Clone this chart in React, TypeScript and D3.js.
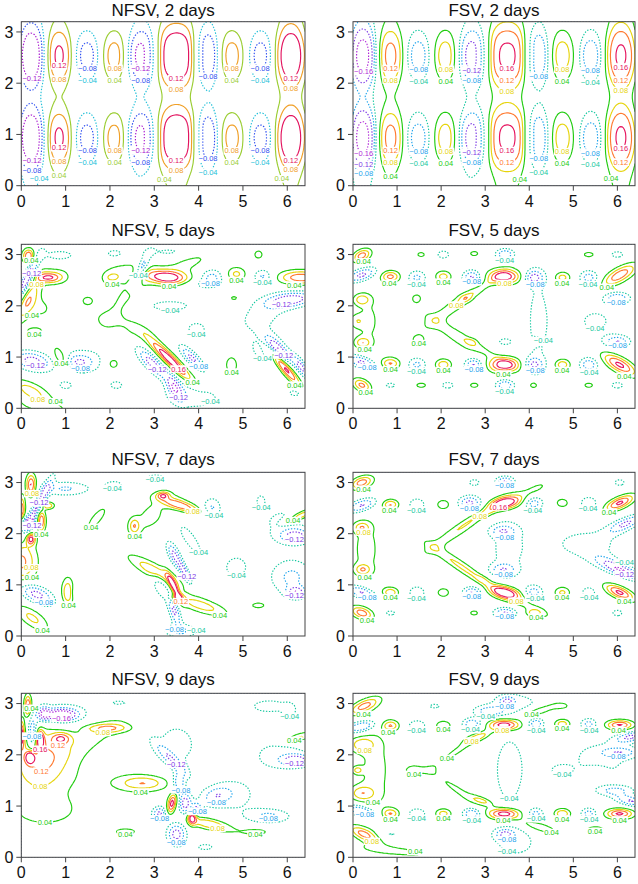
import { useMemo } from "react";
import * as d3 from "d3";

// blob: [x, y, amplitude, sigma along axis, sigma across axis, axis angle in degrees]
type Blob = [number, number, number, number, number, number];

const X_MAX = 6.4;
const Y_MAX = 3.2;
const xTicks = [0, 1, 2, 3, 4, 5, 6];
const yTicks = [0, 1, 2, 3];

// 2-day fields: alternating columns of cells (upper and lower row), read column by column
const waveX = [0.22, 0.85, 1.48, 2.1, 2.75, 3.5, 4.15, 4.75, 5.4, 6.08];
const waveSx = [0.25, 0.23, 0.22, 0.22, 0.29, 0.44, 0.24, 0.22, 0.22, 0.28];
const waveSy = [0.5, 0.41, 0.33, 0.33, 0.41, 0.48, 0.42, 0.33, 0.33, 0.48];
const waveRows = [2.54, 0.93];
const nfsv2Amp = [-0.15, 0.123, -0.092, 0.092, -0.135, 0.155, -0.125, 0.092, -0.092, 0.152];
const fsv2Amp = [-0.172, 0.128, -0.095, 0.095, -0.14, 0.166, -0.125, 0.095, -0.1, 0.163];

const levels6 = [-0.12, -0.08, -0.04, 0.04, 0.08, 0.12];
const colors6 = ["#a818d0", "#2f50f0", "#22c0d8", "#9acd32", "#f0a028", "#e3155f"];
const levels8 = [-0.16, -0.12, -0.08, -0.04, 0.04, 0.08, 0.12, 0.16];
const colors8 = ["#b02ad8", "#7d3ae6", "#1ea4ec", "#16c8a0", "#22cc11", "#e6d40c", "#ff7a30", "#e6155f"];

const nfsv5: Blob[] = [
  [0.17, 2.97, 0.17, 0.1, 0.1, 0],
  [0.15, 2.55, -0.17, 0.35, 0.08, 60],
  [0.15, 2.1, 0.11, 0.35, 0.12, 60],
  [0.62, 2.55, 0.13, 0.2, 0.07, 0],
  [0.8, 2.6, 0.045, 0.35, 0.15, 0],
  [0.45, 1.95, 0.045, 0.25, 0.2, 0],
  [0.3, 1.5, 0.05, 0.2, 0.08, 0],
  [0.25, 0.92, -0.14, 0.3, 0.13, -10],
  [0.9, 0.95, 0.1, 0.22, 0.1, -60],
  [0.2, 0.35, 0.095, 0.35, 0.12, -20],
  [0.5, 0.02, 0.05, 0.6, 0.12, -10],
  [1.3, 0.9, -0.09, 0.22, 0.1, 0],
  [1.45, 0.95, -0.045, 0.45, 0.3, 0],
  [1.0, 0.45, -0.05, 0.15, 0.08, 0],
  [1.45, 1.3, 0.05, 0.1, 0.06, 0],
  [1.5, 2.1, 0.05, 0.15, 0.1, 0],
  [0.85, 2.98, -0.055, 0.35, 0.1, 0],
  [1.5, 2.52, -0.06, 0.22, 0.16, 0],
  [2.1, 2.6, 0.065, 0.45, 0.15, 15],
  [2.05, 2.55, 0.035, 0.12, 0.06, 0],
  [2.1, 3.02, -0.05, 0.2, 0.08, 0],
  [2.35, 2.15, 0.055, 0.55, 0.16, 45],
  [2.35, 1.6, 0.055, 0.5, 0.12, -15],
  [3.3, 2.55, 0.19, 0.35, 0.1, -5],
  [3.8, 2.85, 0.05, 0.5, 0.15, 20],
  [2.7, 2.7, -0.14, 0.25, 0.08, 60],
  [3.9, 2.42, -0.05, 0.3, 0.08, 0],
  [4.3, 2.55, -0.095, 0.18, 0.12, 0],
  [3.3, 3.05, -0.05, 0.45, 0.08, 0],
  [3.35, 2.0, -0.05, 0.55, 0.12, 0],
  [3.95, 1.55, -0.05, 0.25, 0.15, 0],
  [4.8, 2.15, 0.05, 0.1, 0.05, 0],
  [4.85, 2.62, 0.09, 0.16, 0.1, 0],
  [5.35, 3.0, 0.05, 0.12, 0.1, 0],
  [5.45, 2.57, -0.09, 0.15, 0.1, 0],
  [6.3, 2.55, 0.15, 0.35, 0.1, 0],
  [6.1, 2.12, -0.135, 0.4, 0.1, 5],
  [5.5, 1.9, -0.05, 0.5, 0.2, 20],
  [5.95, 0.78, 0.18, 0.35, 0.07, -45],
  [6.32, 0.8, -0.13, 0.2, 0.07, -50],
  [5.8, 1.15, -0.13, 0.25, 0.08, -40],
  [5.5, 1.2, -0.05, 0.4, 0.35, 0],
  [4.75, 0.85, 0.07, 0.12, 0.15, 0],
  [5.5, 0.45, 0.045, 0.15, 0.07, 0],
  [6.2, 0.3, -0.05, 0.2, 0.08, 0],
  [3.35, 0.95, 0.2, 0.45, 0.08, -40],
  [2.95, 0.88, -0.14, 0.3, 0.1, -40],
  [3.85, 0.98, -0.13, 0.25, 0.08, -40],
  [3.45, 0.42, -0.13, 0.2, 0.1, -60],
  [3.9, 0.25, -0.07, 0.5, 0.2, 0],
  [4.3, 0.45, 0.05, 0.3, 0.08, -20],
  [2.2, 1.5, -0.045, 0.12, 0.08, 0],
  [2.07, 0.87, 0.07, 0.12, 0.1, 0],
  [2.15, 0.45, -0.05, 0.15, 0.08, 0],
];

const fsv5: Blob[] = [
  [0.85, 2.57, 0.13, 0.15, 0.08, 0],
  [1.45, 2.55, -0.09, 0.15, 0.1, 0],
  [2.05, 2.57, 0.1, 0.13, 0.08, 0],
  [2.7, 2.55, -0.13, 0.15, 0.1, 0],
  [3.45, 2.57, 0.19, 0.25, 0.1, 0],
  [4.1, 2.55, -0.12, 0.15, 0.1, 0],
  [4.75, 2.55, 0.1, 0.13, 0.08, 0],
  [5.35, 2.55, -0.1, 0.15, 0.1, 0],
  [6.05, 2.6, 0.15, 0.3, 0.1, 25],
  [0.85, 0.87, 0.12, 0.15, 0.08, 0],
  [1.45, 0.85, -0.09, 0.15, 0.1, 0],
  [2.05, 0.85, 0.11, 0.13, 0.08, 0],
  [2.75, 0.85, -0.13, 0.15, 0.1, 0],
  [3.45, 0.85, 0.19, 0.25, 0.1, 0],
  [4.1, 0.85, -0.11, 0.15, 0.1, 0],
  [4.75, 0.85, 0.11, 0.13, 0.08, 0],
  [5.35, 0.85, -0.11, 0.15, 0.1, 0],
  [6.05, 0.85, 0.17, 0.3, 0.1, -25],
  [0.2, 2.98, 0.14, 0.15, 0.08, 20],
  [0.2, 2.6, -0.14, 0.25, 0.09, 15],
  [0.2, 2.12, 0.09, 0.12, 0.07, 0],
  [0.1, 1.7, 0.05, 0.12, 0.08, 0],
  [0.22, 1.28, 0.09, 0.12, 0.07, 0],
  [0.2, 0.9, -0.14, 0.25, 0.09, -15],
  [0.2, 0.45, 0.13, 0.15, 0.08, -20],
  [0.35, 1.7, 0.045, 0.3, 0.55, 0],
  [2.65, 2.2, 0.045, 0.55, 0.06, 30],
  [2.55, 2.15, 0.04, 0.1, 0.05, 0],
  [2.3, 2.0, 0.045, 0.75, 0.12, 33],
  [2.75, 1.25, 0.045, 0.55, 0.06, -27],
  [2.7, 1.3, 0.04, 0.1, 0.05, 0],
  [2.3, 1.4, 0.045, 0.75, 0.12, -33],
  [1.55, 3.0, 0.05, 0.12, 0.06, 0],
  [2.05, 3.0, -0.05, 0.18, 0.1, 0],
  [2.75, 3.02, 0.05, 0.12, 0.06, 0],
  [3.45, 3.0, -0.12, 0.15, 0.08, 0],
  [4.1, 3.02, 0.05, 0.2, 0.06, 20],
  [5.35, 3.0, 0.05, 0.15, 0.06, 0],
  [6.0, 3.0, -0.05, 0.18, 0.08, 0],
  [0.85, 0.45, -0.05, 0.15, 0.06, 0],
  [1.55, 0.45, 0.05, 0.15, 0.06, 0],
  [2.15, 0.45, -0.05, 0.18, 0.08, 0],
  [2.75, 0.45, 0.05, 0.13, 0.06, 0],
  [3.45, 0.45, -0.12, 0.15, 0.08, 0],
  [4.1, 0.45, 0.08, 0.08, 0.05, 0],
  [5.35, 0.45, 0.05, 0.13, 0.06, 0],
  [6.0, 0.45, -0.05, 0.18, 0.08, 0],
  [1.45, 2.15, 0.05, 0.1, 0.08, 0],
  [3.45, 1.3, -0.05, 0.18, 0.08, 0],
  [4.15, 1.3, 0.045, 0.07, 0.05, 0],
  [1.5, 1.33, 0.05, 0.12, 0.08, 0],
  [6.0, 1.3, -0.11, 0.2, 0.08, 0],
  [6.0, 2.15, -0.11, 0.2, 0.08, 0],
  [0.9, 2.1, -0.045, 0.08, 0.05, 0],
  [0.9, 1.3, -0.045, 0.08, 0.05, 0],
  [4.2, 1.7, -0.05, 0.25, 0.9, 0],
  [5.5, 1.7, -0.045, 0.5, 0.3, 0],
];

const nfsv7: Blob[] = [
  [0.22, 2.95, 0.17, 0.08, 0.15, 0],
  [0.0, 2.45, 0.16, 0.06, 0.2, 0],
  [0.22, 1.9, 0.16, 0.07, 0.08, 0],
  [0.45, 2.25, 0.16, 0.07, 0.15, 0],
  [0.38, 2.55, -0.14, 0.45, 0.07, 60],
  [0.1, 2.2, -0.13, 0.15, 0.1, 0],
  [0.6, 2.55, 0.12, 0.1, 0.05, 0],
  [0.0, 1.45, 0.13, 0.25, 0.3, 0],
  [0.33, 0.82, -0.14, 0.3, 0.12, -20],
  [1.05, 0.85, 0.12, 0.1, 0.2, 0],
  [0.25, 0.35, 0.09, 0.3, 0.12, -30],
  [1.0, 2.88, -0.085, 0.4, 0.1, 0],
  [1.7, 2.3, 0.05, 0.35, 0.12, 45],
  [2.1, 2.95, -0.05, 0.25, 0.1, 0],
  [2.55, 2.15, 0.09, 0.08, 0.1, 0],
  [3.0, 2.4, 0.05, 0.6, 0.25, 35],
  [3.6, 2.55, 0.14, 0.35, 0.07, -15],
  [3.2, 2.75, 0.12, 0.1, 0.05, 0],
  [3.05, 3.1, -0.05, 0.3, 0.08, 0],
  [4.3, 2.5, -0.085, 0.15, 0.15, 0],
  [3.8, 1.9, -0.05, 0.5, 0.15, -50],
  [3.05, 1.25, 0.12, 0.45, 0.1, -25],
  [3.45, 0.95, 0.17, 0.2, 0.05, -60],
  [4.05, 0.6, 0.1, 0.45, 0.1, -15],
  [3.5, 0.75, 0.12, 0.1, 0.05, 0],
  [3.45, 1.58, -0.13, 0.2, 0.08, -60],
  [3.7, 1.22, -0.13, 0.18, 0.06, -60],
  [3.45, 0.5, -0.13, 0.22, 0.08, -70],
  [3.15, 0.95, -0.09, 0.2, 0.1, -60],
  [3.6, 0.1, -0.08, 0.3, 0.1, 0],
  [4.85, 1.35, -0.05, 0.3, 0.25, 0],
  [6.1, 1.15, -0.09, 0.35, 0.25, 0],
  [6.2, 0.85, -0.12, 0.15, 0.08, 0],
  [5.35, 0.6, 0.05, 0.2, 0.07, 0],
  [6.3, 2.35, 0.13, 0.25, 0.06, 20],
  [6.2, 1.95, -0.12, 0.25, 0.1, 0],
  [5.9, 2.2, -0.05, 0.45, 0.3, 0],
  [5.4, 2.65, -0.045, 0.1, 0.12, 0],
  [1.25, 0.85, -0.045, 0.1, 0.1, 0],
  [1.0, 0.45, -0.045, 0.1, 0.1, 0],
];

const fsv7: Blob[] = [
  [0.85, 2.57, 0.12, 0.13, 0.07, 0],
  [1.45, 2.57, -0.07, 0.15, 0.1, 0],
  [2.05, 2.57, 0.065, 0.13, 0.08, 0],
  [2.65, 2.6, -0.13, 0.18, 0.1, 0],
  [3.45, 2.6, 0.19, 0.25, 0.09, 10],
  [4.1, 2.6, -0.1, 0.15, 0.1, 0],
  [4.75, 2.6, 0.06, 0.13, 0.08, 0],
  [5.35, 2.6, -0.07, 0.15, 0.1, 0],
  [6.05, 2.6, 0.17, 0.25, 0.08, 20],
  [6.2, 2.2, -0.12, 0.3, 0.08, 20],
  [0.85, 0.85, 0.11, 0.13, 0.07, 0],
  [1.45, 0.85, -0.07, 0.15, 0.1, 0],
  [2.05, 0.85, 0.06, 0.13, 0.08, 0],
  [2.7, 0.85, -0.12, 0.15, 0.08, 0],
  [3.45, 0.85, 0.19, 0.25, 0.09, -10],
  [4.1, 0.85, -0.1, 0.15, 0.1, 0],
  [4.75, 0.85, 0.09, 0.13, 0.08, 0],
  [5.35, 0.85, -0.06, 0.15, 0.1, 0],
  [6.05, 0.85, 0.17, 0.25, 0.08, -20],
  [6.2, 1.25, -0.12, 0.3, 0.08, -20],
  [0.2, 3.0, 0.14, 0.18, 0.08, 15],
  [0.2, 2.55, -0.14, 0.25, 0.09, 15],
  [0.2, 2.12, 0.09, 0.12, 0.07, 0],
  [0.22, 1.3, 0.09, 0.12, 0.07, 0],
  [0.2, 0.85, -0.14, 0.25, 0.09, -15],
  [0.2, 0.45, 0.14, 0.18, 0.08, -15],
  [0.3, 1.7, 0.05, 0.3, 0.6, 0],
  [2.65, 2.25, 0.045, 0.6, 0.06, 30],
  [3.05, 2.4, 0.04, 0.12, 0.05, 20],
  [2.4, 2.05, 0.045, 0.85, 0.1, 30],
  [2.55, 1.3, 0.045, 0.6, 0.06, -30],
  [2.95, 1.1, 0.04, 0.12, 0.05, -20],
  [2.4, 1.4, 0.045, 0.85, 0.1, -30],
  [4.0, 0.6, 0.05, 0.6, 0.1, -25],
  [4.0, 2.8, 0.05, 0.5, 0.1, 25],
  [3.4, 2.05, -0.085, 0.2, 0.08, 0],
  [3.4, 1.3, -0.085, 0.2, 0.08, 0],
  [3.5, 1.7, -0.05, 0.35, 0.6, 0],
  [3.45, 3.02, -0.12, 0.15, 0.07, 0],
  [3.45, 0.45, -0.12, 0.18, 0.07, 0],
  [2.75, 3.0, -0.05, 0.15, 0.08, 0],
  [2.75, 0.45, 0.05, 0.12, 0.06, 0],
  [4.1, 0.45, 0.08, 0.12, 0.05, 0],
  [0.85, 0.45, -0.05, 0.15, 0.06, 0],
  [6.0, 0.45, -0.05, 0.15, 0.08, 0],
  [6.05, 3.0, -0.05, 0.15, 0.08, 0],
  [5.3, 1.8, -0.05, 0.8, 0.3, 0],
  [5.8, 1.4, -0.08, 0.3, 0.1, -20],
];

const nfsv9: Blob[] = [
  [0.15, 2.95, 0.18, 0.06, 0.15, 0],
  [0.2, 1.95, 0.17, 0.07, 0.08, 0],
  [0.42, 2.3, 0.17, 0.06, 0.12, 0],
  [0.0, 2.4, 0.16, 0.05, 0.2, 0],
  [0.25, 2.4, -0.15, 0.08, 0.25, 0],
  [0.5, 2.8, -0.12, 0.1, 0.1, 0],
  [0.9, 2.78, -0.18, 0.25, 0.08, 0],
  [0.9, 2.8, -0.06, 0.5, 0.2, 0],
  [0.9, 2.32, 0.11, 0.15, 0.08, 0],
  [0.4, 2.0, 0.09, 0.45, 0.4, 45],
  [0.6, 1.6, 0.05, 0.7, 0.5, 30],
  [1.95, 2.52, 0.095, 0.35, 0.06, 0],
  [1.8, 2.45, 0.045, 0.8, 0.2, 25],
  [2.3, 3.0, -0.05, 0.45, 0.12, 0],
  [3.5, 2.2, -0.05, 0.5, 0.45, 0],
  [3.4, 1.9, -0.09, 0.35, 0.08, -40],
  [2.75, 1.45, 0.08, 0.35, 0.09, 0],
  [2.7, 1.45, 0.045, 0.7, 0.2, 0],
  [3.4, 1.05, 0.18, 0.07, 0.15, -20],
  [3.85, 0.78, 0.17, 0.07, 0.1, 0],
  [4.25, 0.65, 0.12, 0.35, 0.08, -10],
  [3.55, 1.45, -0.13, 0.1, 0.15, 0],
  [3.7, 1.05, -0.14, 0.1, 0.15, 0],
  [3.12, 0.85, -0.13, 0.12, 0.1, 0],
  [3.5, 0.45, -0.14, 0.15, 0.15, 0],
  [3.95, 0.95, -0.12, 0.08, 0.08, 0],
  [4.4, 1.2, -0.085, 0.25, 0.12, 10],
  [4.8, 1.2, -0.05, 0.5, 0.3, 0],
  [5.6, 0.8, -0.085, 0.35, 0.1, 0],
  [5.3, 0.5, 0.05, 0.35, 0.08, 0],
  [4.15, 0.2, -0.045, 0.3, 0.1, 0],
  [6.3, 2.35, 0.1, 0.25, 0.06, 10],
  [6.2, 1.9, -0.12, 0.25, 0.08, 0],
  [5.8, 2.0, -0.05, 0.6, 0.3, 0],
  [5.6, 2.95, -0.05, 0.5, 0.15, 0],
  [2.35, 0.5, 0.05, 0.3, 0.08, 0],
  [0.6, 0.9, 0.05, 0.5, 0.2, 0],
  [5.05, 2.1, 0.045, 0.08, 0.05, 0],
  [6.05, 2.85, -0.045, 0.1, 0.1, 0],
];

const fsv9: Blob[] = [
  [0.85, 2.57, 0.11, 0.13, 0.07, 0],
  [1.45, 2.57, -0.08, 0.15, 0.08, 0],
  [2.05, 2.57, 0.08, 0.13, 0.07, 0],
  [2.7, 2.6, -0.12, 0.15, 0.08, 0],
  [3.45, 2.58, 0.2, 0.25, 0.08, 0],
  [4.15, 2.6, -0.11, 0.12, 0.08, 0],
  [4.75, 2.6, 0.11, 0.13, 0.07, 0],
  [5.35, 2.6, -0.09, 0.13, 0.08, 0],
  [6.05, 2.58, 0.17, 0.22, 0.07, 0],
  [6.3, 2.35, -0.12, 0.25, 0.07, 10],
  [0.85, 0.85, 0.11, 0.13, 0.07, 0],
  [1.45, 0.85, -0.08, 0.15, 0.08, 0],
  [2.05, 0.85, 0.1, 0.13, 0.07, 0],
  [2.7, 0.85, -0.12, 0.15, 0.08, 0],
  [3.45, 0.85, 0.2, 0.25, 0.08, 0],
  [4.15, 0.85, -0.09, 0.12, 0.08, 0],
  [4.75, 0.85, 0.12, 0.13, 0.07, 0],
  [5.35, 0.85, -0.1, 0.13, 0.08, 0],
  [6.05, 0.85, 0.17, 0.22, 0.07, 0],
  [6.3, 1.1, -0.12, 0.25, 0.07, -10],
  [0.25, 2.95, 0.13, 0.25, 0.08, 20],
  [0.2, 2.55, -0.14, 0.25, 0.08, 10],
  [0.2, 2.2, 0.09, 0.2, 0.1, 0],
  [0.2, 1.25, 0.09, 0.2, 0.1, 0],
  [0.2, 0.9, -0.14, 0.25, 0.08, -10],
  [0.25, 0.45, 0.13, 0.25, 0.08, -20],
  [0.1, 1.7, 0.08, 0.08, 0.05, 0],
  [0.5, 1.7, 0.05, 0.35, 0.8, 0],
  [2.85, 2.35, 0.08, 0.2, 0.05, 15],
  [2.4, 2.1, 0.045, 0.7, 0.1, 30],
  [2.95, 1.1, 0.08, 0.2, 0.05, -15],
  [2.4, 1.3, 0.045, 0.7, 0.1, -30],
  [4.2, 0.6, 0.09, 0.35, 0.07, -15],
  [4.2, 2.85, 0.09, 0.3, 0.07, 15],
  [3.55, 1.7, -0.06, 0.3, 0.6, 0],
  [3.1, 2.85, -0.09, 0.25, 0.07, 0],
  [3.5, 3.05, -0.09, 0.12, 0.06, 0],
  [3.45, 0.45, -0.1, 0.15, 0.07, 0],
  [3.7, 0.3, -0.05, 0.5, 0.3, 0],
  [3.7, 3.0, -0.05, 0.6, 0.2, 0],
  [1.85, 2.95, -0.045, 0.2, 0.07, 0],
  [4.75, 2.95, 0.05, 0.2, 0.07, 0],
  [1.35, 1.7, 0.05, 0.15, 0.08, 0],
  [4.7, 1.7, -0.045, 0.18, 0.08, 0],
  [5.5, 1.7, 0.045, 0.15, 0.05, 0],
  [0.85, 0.45, -0.05, 0.2, 0.07, 0],
  [5.5, 0.55, 0.05, 0.25, 0.07, 0],
  [1.0, 0.12, 0.05, 0.8, 0.08, -5],
  [5.6, 1.9, -0.05, 0.7, 0.35, 0],
  [5.95, 1.3, -0.085, 0.3, 0.07, 0],
  [6.05, 2.05, -0.085, 0.3, 0.07, 0],
];

const colsX: [number, number][] = [
  [21.3, 305],
  [353, 635],
];
const rowsY: [number, number][] = [
  [21.7, 185.7],
  [244.3, 408.3],
  [472.3, 636],
  [693.3, 857.3],
];
const titleBase = [16, 236, 465, 685];

// flat-topped radial profile, r in units of sigma
const cap = (r2: number) => Math.exp(-0.5 * Math.pow(r2, 1.5));

// 2-day columns: elliptical cells on the two rows plus a weak full-height stripe
const columnField = (amps: number[]) => (px: number, py: number) => {
  let v = 0;
  waveX.forEach((cx, i) => {
    const ux = (px - cx) / waveSx[i];
    if (Math.abs(ux) > 4) return;
    const u2 = ux * ux;
    const top = (py - waveRows[0]) / waveSy[i];
    const bot = (py - waveRows[1]) / waveSy[i];
    const stripe = cap(u2) * Math.exp(-0.5 * Math.pow((py - 1.74) / 4, 2));
    v += amps[i] * (0.72 * (cap(u2 + top * top) + cap(u2 + bot * bot)) + 0.3 * stripe);
  });
  return v;
};

const blobField = (blobs: Blob[]) => (px: number, py: number) => {
  let v = 0;
  for (const [bx, by, a, sx, sy, rot] of blobs) {
    const t = (rot * Math.PI) / 180;
    const dx = px - bx;
    const dy = py - by;
    const u = dx * Math.cos(t) + dy * Math.sin(t);
    const w = -dx * Math.sin(t) + dy * Math.cos(t);
    const q = (u * u) / (sx * sx) + (w * w) / (sy * sy);
    if (q < 40) v += a * Math.exp(-0.5 * q);
  }
  return v;
};

const panels = [
  { title: "NFSV, 2 days", field: columnField(nfsv2Amp), levels: levels6, colors: colors6, col: 0, row: 0 },
  { title: "FSV, 2 days", field: columnField(fsv2Amp), levels: levels8, colors: colors8, col: 1, row: 0 },
  { title: "NFSV, 5 days", field: blobField(nfsv5), levels: levels8, colors: colors8, col: 0, row: 1 },
  { title: "FSV, 5 days", field: blobField(fsv5), levels: levels8, colors: colors8, col: 1, row: 1 },
  { title: "NFSV, 7 days", field: blobField(nfsv7), levels: levels8, colors: colors8, col: 0, row: 2 },
  { title: "FSV, 7 days", field: blobField(fsv7), levels: levels8, colors: colors8, col: 1, row: 2 },
  { title: "NFSV, 9 days", field: blobField(nfsv9), levels: levels8, colors: colors8, col: 0, row: 3 },
  { title: "FSV, 9 days", field: blobField(fsv9), levels: levels8, colors: colors8, col: 1, row: 3 },
];

const FONT = "'Liberation Sans', Arial, Helvetica, sans-serif";
const fmt = d3.format(".2f");

type PanelProps = {
  title: string;
  field: (x: number, y: number) => number;
  levels: number[];
  colors: string[];
  col: number;
  row: number;
  id: number;
};

const Panel = ({ title, field, levels, colors, col, row, id }: PanelProps) => {
  const [x0, x1] = colsX[col];
  const [y0, y1] = rowsY[row];
  const x = d3.scaleLinear().domain([0, X_MAX]).range([x0, x1]);
  const y = d3.scaleLinear().domain([0, Y_MAX]).range([y1, y0]);

  const { paths, labels } = useMemo(() => {
    const nx = 241;
    const ny = 121;
    const dx = X_MAX / (nx - 1);
    const dy = Y_MAX / (ny - 1);
    const values = new Array(nx * ny);
    for (let j = 0; j < ny; j++) {
      const yy = Y_MAX - j * dy;
      for (let i = 0; i < nx; i++) values[j * nx + i] = field(i * dx, yy);
    }
    const contours = d3.contours().size([nx, ny]).thresholds(levels)(values);

    const paths: { d: string; color: string; neg: boolean }[] = [];
    const labels: { x: number; y: number; text: string; color: string; w: number }[] = [];
    const boxes: { x: number; y: number; w: number; h: number }[] = [];

    contours.forEach((c) => {
      const color = colors[levels.indexOf(c.value)];
      let d = "";
      c.coordinates.forEach((poly) =>
        poly.forEach((ring) => {
          const pts = ring.map(([cx, cy]) => [x((cx - 0.5) * dx), y(Y_MAX - (cy - 0.5) * dy)]);
          d += "M" + pts.map((p) => `${p[0].toFixed(1)},${p[1].toFixed(1)}`).join("L") + "Z";
          let per = 0;
          for (let k = 1; k < pts.length; k++)
            per += Math.hypot(pts[k][0] - pts[k - 1][0], pts[k][1] - pts[k - 1][1]);
          if (per < 30) return;
          // label at the lowest point of the ring that is well inside the frame
          let best: number[] | null = null;
          for (const p of pts) {
            if (p[0] < x0 + 10 || p[0] > x1 - 10 || p[1] < y0 + 6 || p[1] > y1 - 6) continue;
            if (!best || p[1] > best[1]) best = p;
          }
          if (!best) return;
          const text = fmt(c.value);
          const w = text.length * 4.1;
          const box = { x: best[0] - w / 2, y: best[1] - 4, w, h: 8 };
          const hit = boxes.some(
            (b) => box.x < b.x + b.w && box.x + box.w > b.x && box.y < b.y + b.h && box.y + box.h > b.y
          );
          if (hit) return;
          boxes.push(box);
          labels.push({ x: best[0], y: best[1], text, color, w });
        })
      );
      paths.push({ d, color, neg: c.value < 0 });
    });
    return { paths, labels };
  }, [field, levels, colors, x0, x1, y0, y1]);

  const clipId = `clip-${id}`;
  return (
    <g>
      <clipPath id={clipId}>
        <rect x={x0} y={y0} width={x1 - x0} height={y1 - y0} />
      </clipPath>
      <g clipPath={`url(#${clipId})`}>
        {paths.map((p, i) => (
          <path
            key={i}
            d={p.d}
            fill="none"
            stroke={p.color}
            strokeWidth={1.15}
            strokeDasharray={p.neg ? "1.4 1.6" : undefined}
          />
        ))}
        {labels.map((l, i) => (
          <g key={i}>
            <rect x={l.x - l.w / 2} y={l.y - 3.8} width={l.w} height={7.6} fill="#fff" />
            <text
              x={l.x}
              y={l.y}
              dy="0.35em"
              textAnchor="middle"
              fontSize={7.5}
              fontFamily={FONT}
              fill={l.color}
            >
              {l.text}
            </text>
          </g>
        ))}
      </g>
      <rect x={x0} y={y0} width={x1 - x0} height={y1 - y0} fill="none" stroke="#444" strokeWidth={1} />
      {xTicks.map((t) => (
        <g key={`x${t}`}>
          <line x1={x(t)} x2={x(t)} y1={y1} y2={y1 + 5} stroke="#444" />
          <text x={x(t)} y={y1 + 21} textAnchor="middle" fontSize={16} fontFamily={FONT} fill="#111">
            {t}
          </text>
        </g>
      ))}
      {yTicks.map((t) => (
        <g key={`y${t}`}>
          <line x1={x0 - 5} x2={x0} y1={y(t)} y2={y(t)} stroke="#444" />
          <text x={x0 - 8} y={y(t)} dy="0.36em" textAnchor="end" fontSize={16} fontFamily={FONT} fill="#111">
            {t}
          </text>
        </g>
      ))}
      <text x={(x0 + x1) / 2} y={titleBase[row]} textAnchor="middle" fontSize={17} fontFamily={FONT} fill="#111">
        {title}
      </text>
    </g>
  );
};

const App = () => (
  <svg
    width={638}
    height={884}
    viewBox="0 0 638 884"
    style={{ position: "absolute", left: 0, top: 0, background: "#fff" }}
  >
    {panels.map((p, i) => (
      <Panel key={i} id={i} {...p} />
    ))}
  </svg>
);

export default App;
